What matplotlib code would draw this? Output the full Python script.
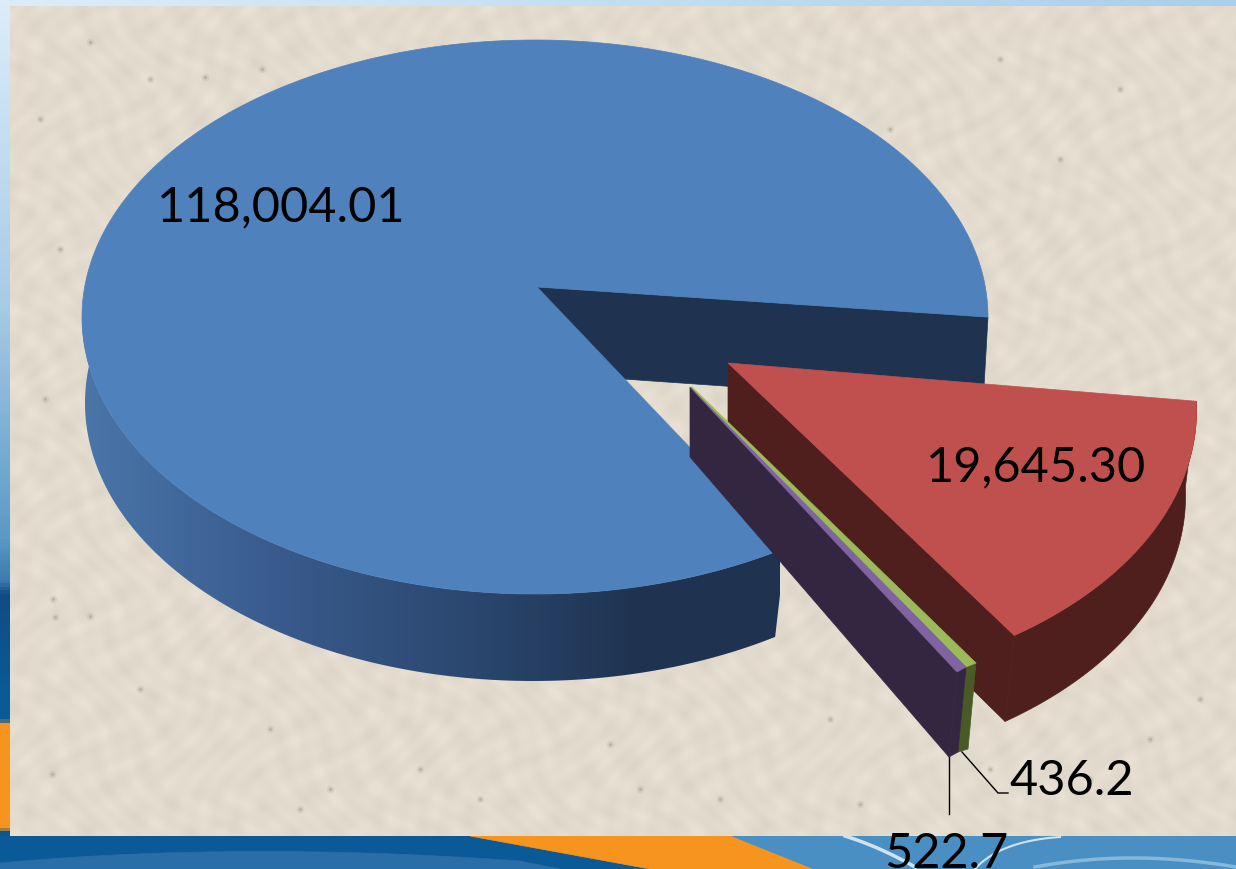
import numpy as np
import matplotlib
matplotlib.use('Agg')
import matplotlib.pyplot as plt
from matplotlib.colors import LinearSegmentedColormap
from matplotlib.patches import Polygon, Rectangle

# values shown on the chart
labels = ['118,004.01', '19,645.30', '436.2', '522.7']
values = [118004.01, 19645.30, 436.2, 522.7]

# colours: top face, side face
blue_top = '#4f81bd'
blue_dark = '#1f3350'
red_top = '#c0504d'
red_dark = '#4f1f1d'
green_top = '#9bbb59'
green_dark = '#4a5a24'
purple_top = '#8064a2'
purple_dark = '#332640'

# soft speckles on the paper background
speck_x = [90, 150, 205, 262, 53, 55, 90, 52, 270, 330, 420, 610, 720, 860, 990,
           1090, 1150, 1200, 60, 45, 140, 300, 480, 640, 830, 1060, 1120, 40, 1000, 890]
speck_y = [43, 80, 78, 70, 600, 618, 617, 775, 730, 790, 770, 745, 800, 805, 770,
           780, 740, 700, 250, 400, 690, 810, 800, 790, 720, 160, 90, 120, 60, 130]

total = sum(values)
sweeps = [360.0 * v / total for v in values]

W, H = 1236, 870
fig = plt.figure(figsize=(W / 100, H / 100), dpi=100)
ax = fig.add_axes([0, 0, 1, 1])
ax.set_xlim(0, W)
ax.set_ylim(H, 0)
ax.axis('off')

# projective shift of the pie centre (perspective of the 3D view)
w = -0.054j


def arc(start, sweep, cx, cy, a, b, n=120):
    th = np.radians(np.linspace(start, start + sweep, n))
    z = np.exp(1j * th)
    z = (z + w) / (1 + np.conj(w) * z)
    return np.column_stack([cx + a * z.real, cy + b * z.imag])


def lean(pts, y0):
    # the exploded slice sits nearer the viewer, so its arc leans a little
    out = pts.copy()
    out[:, 0] += 0.075 * (pts[:, 1] - y0)
    out[:, 1] -= 0.02 * (pts[:, 1] - y0)
    return out


def poly(pts, color, z):
    ax.add_patch(Polygon(pts, closed=True, facecolor=color, edgecolor=color, lw=0.5, zorder=z))


def bend(x0, y0, xm, ym, x1, y1, n=40):
    # quadratic curve for the swooshes of the slide template
    s = np.linspace(0, 1, n)
    return ((1 - s) ** 2 * x0 + 2 * s * (1 - s) * xm + s ** 2 * x1,
            (1 - s) ** 2 * y0 + 2 * s * (1 - s) * ym + s ** 2 * y1)


# page background
grad = np.linspace(0, 1, 300).reshape(1, -1)
top_cmap = LinearSegmentedColormap.from_list('t', ['#dcedf9', '#a9d0ea'])
ax.imshow(grad, extent=[0, W, 7, 0], cmap=top_cmap, aspect='auto', zorder=0)
left_cmap = LinearSegmentedColormap.from_list('l', [
    (0.0, '#dcedf9'), (0.35, '#a8cbe6'), (0.62, '#5a9ac6'), (0.67, '#3a7aae'),
    (0.685, '#0f4d80'), (0.80, '#0b5a98'), (0.83, '#0b5a98'), (0.835, '#f7941e'),
    (0.955, '#f7941e'), (0.96, '#0a5690'), (1.0, '#0a5a98')])
ax.imshow(np.linspace(0, 1, 870).reshape(-1, 1), extent=[0, 10, H, 0], cmap=left_cmap,
          aspect='auto', zorder=0)

# bottom strip
ax.add_patch(Rectangle((0, 837), W, 33, facecolor='#4a8fc4', edgecolor='none', zorder=0))
poly([(0, 837), (470, 837), (650, 870), (0, 870)], '#0a5a98', 0.1)
bx, by = bend(0, 864, 240, 842, 520, 862)
poly(np.vstack([np.column_stack([bx, by]), [(560, 870), (0, 870)]]), '#2a6ea8', 0.15)
poly([(470, 837), (730, 837), (812, 870), (650, 870)], '#f7941e', 0.2)
ax.plot(*bend(845, 837, 880, 848, 915, 868), color='#cfe4f2', lw=2.5, zorder=0.3)
ax.plot(*bend(975, 870, 1000, 842, 1060, 838), color='#cfe4f2', lw=1.5, zorder=0.3)
ax.plot(*bend(1035, 868, 1130, 850, 1236, 868), color='#86b8da', lw=2.5, zorder=0.3)

# paper panel with a faint mottled grain
yy, xx = np.mgrid[7:837:2, 10:1236:2]
grain = (np.sin(xx * 0.093 + yy * 0.041) * np.sin(yy * 0.127 - xx * 0.037)
         + np.sin(xx * 0.211 + 1.3 + np.sin(yy * 0.05) * 3) * np.sin(yy * 0.173 + 0.4 + np.sin(xx * 0.03) * 3))
paper = LinearSegmentedColormap.from_list('p', ['#dcd4c6', '#e3dbcd', '#e9e2d6'])
ax.imshow(grain, extent=[10, W, 837, 7], cmap=paper, vmin=-2, vmax=2, aspect='auto',
          interpolation='bilinear', zorder=0.5)
ax.scatter(speck_x, speck_y, s=30, color='#b5ab9c', alpha=0.25, linewidths=0, zorder=0.6)
ax.scatter(speck_x, speck_y, s=6, color='#8f8779', alpha=0.35, linewidths=0, zorder=0.6)

# start of the red slice on the pie, the rest follow clockwise
start = 6.2
red_start = start
green_start = red_start + sweeps[1]
purple_start = green_start + sweeps[2]
blue_start = purple_start + sweeps[3]

# blue slice
top_blue = arc(blue_start, sweeps[0], 535, 318, 453, 277, 400)
bot_blue = arc(blue_start, sweeps[0], 533, 404, 448, 278, 400)
apex = (537, 288)
apex_b = (537, 374)
poly([apex, top_blue[-1], (983, 405), apex_b], blue_dark, 1)

# side of the blue slice with its shading
half = np.arange(400) < 200
late = np.arange(400) >= 1
side = np.vstack([top_blue[half & (top_blue[:, 1] > 318)],
                  bot_blue[half & late & (bot_blue[:, 1] > 362)][::-1]])
side_cmap = LinearSegmentedColormap.from_list('s', [
    (0.0, '#4a76aa'), (0.3, '#38598a'), (0.55, '#2b4870'), (0.8, '#1f3350'), (1.0, '#1f3350')])
im = ax.imshow(grad, extent=[80, 780, 690, 320], cmap=side_cmap, aspect='auto', zorder=1.2)
im.set_clip_path(Polygon(side, closed=True, transform=ax.transData))
ax.set_xlim(0, W)
ax.set_ylim(H, 0)
poly(np.vstack([[apex], top_blue]), blue_top, 2)

# red slice
r_arc = lean(arc(red_start + 1.0, sweeps[1], 724, 397, 472, 299), 397)
r_bot = lean(arc(red_start + 1.0, sweeps[1], 717, 483, 468, 299), 483)
r_apex = (728, 364)
r_apex_b = (728, 450)
poly([r_apex, r_arc[-1], r_bot[-1], r_apex_b], red_dark, 3)
poly(np.vstack([r_arc, r_bot[::-1]]), red_dark, 3)
poly(np.vstack([[r_apex], r_arc]), red_top, 3.2)

# green slice
poly([(692, 388), (976, 664), (966, 668), (690, 390)], green_top, 4.2)
poly([(976, 664), (968, 750), (958, 753), (966, 668)], green_dark, 4.1)

# purple slice
poly([(690, 388), (966, 668), (957, 673)], purple_top, 5.2)
poly([(690, 388), (957, 673), (949, 758), (690, 458)], purple_dark, 5)
poly([(957, 673), (966, 668), (958, 753), (949, 758)], purple_dark, 5)

# leader lines
ax.plot([949, 949], [758, 815], color='black', lw=1, zorder=6)
ax.plot([962, 998, 1008], [753, 794, 794], color='black', lw=1, zorder=6)

# labels
font = dict(family='Lato', fontsize=35, color='black', zorder=7)
ax.text(281, 207, labels[0], ha='center', va='center', **font)
ax.text(1036, 467, labels[1], ha='center', va='center', **font)
ax.text(1072, 781, labels[2], ha='center', va='center', **font)
ax.text(946, 854, labels[3], ha='center', va='center', **font)

fig.savefig('out.png', dpi=100)
